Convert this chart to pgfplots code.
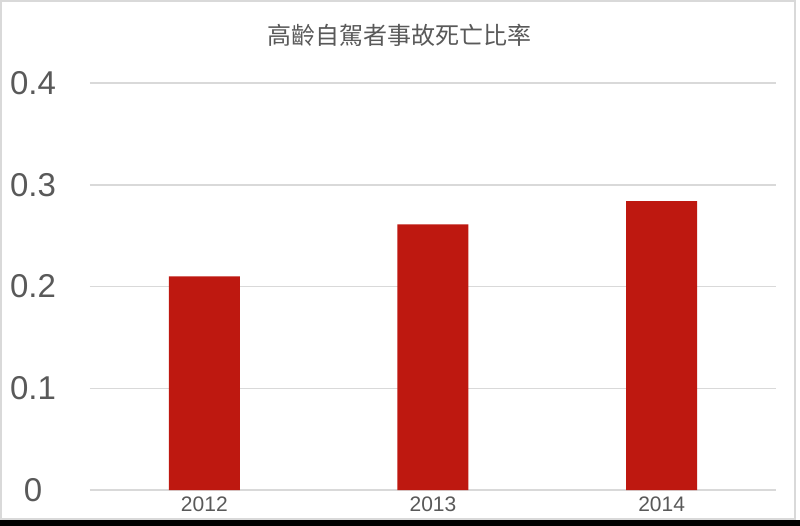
\documentclass[border=0pt]{standalone}
\usepackage{fontspec}
\setmainfont{Liberation Sans}
\newfontfamily\cjk{Noto Sans CJK TC}
\usepackage{pgfplots}
\pgfplotsset{compat=1.18}
\definecolor{barred}{RGB}{190,24,16}
\definecolor{txtgray}{RGB}{89,89,89}
\definecolor{gridgray}{RGB}{217,217,217}
\begin{document}
\begin{tikzpicture}
\useasboundingbox (-45pt,-18pt) rectangle (355pt,245pt);
\fill[white] (-45pt,-18pt) rectangle (355pt,245pt);
\draw[gridgray, line width=1pt] (-44.3pt,-14.5pt) rectangle (352.5pt,244.3pt);
\fill[black] (-45pt,-18pt) rectangle (355pt,-15pt);
\begin{axis}[
    scale only axis,
    width=343pt, height=203.5pt,
    xmin=-0.5, xmax=2.5,
    ymin=0, ymax=0.4,
    ytick={0,0.1,0.2,0.3,0.4},
    yticklabels={0,0.1,0.2,0.3,0.4},
    xtick={0,1,2},
    xticklabels={2012,2013,2014},
    axis line style={draw=none},
    tick style={draw=none},
    ymajorgrids=true,
    major grid style={draw=gridgray, line width=0.75pt},
    /pgf/number format/assume math mode=true,
    yticklabel style={font=\fontsize{16.5}{18}\selectfont, text=txtgray, anchor=center, xshift=-28.5pt},
    xticklabel style={font=\fontsize{10.5}{12}\selectfont, text=txtgray, anchor=center, yshift=-7pt},
    title={\cjk 高齡自駕者事故死亡比率},
    title style={font=\fontsize{12}{14}\selectfont, text=txtgray, at={(0.5,1)}, anchor=center, yshift=18pt, xshift=-16.5pt},
    clip=false,
]
\addplot[ybar, bar width=35.5pt, fill=barred, draw=none] coordinates {
    (0, 0.210)
    (1, 0.261)
    (2, 0.284)
};
\end{axis}
\end{tikzpicture}
\end{document}
